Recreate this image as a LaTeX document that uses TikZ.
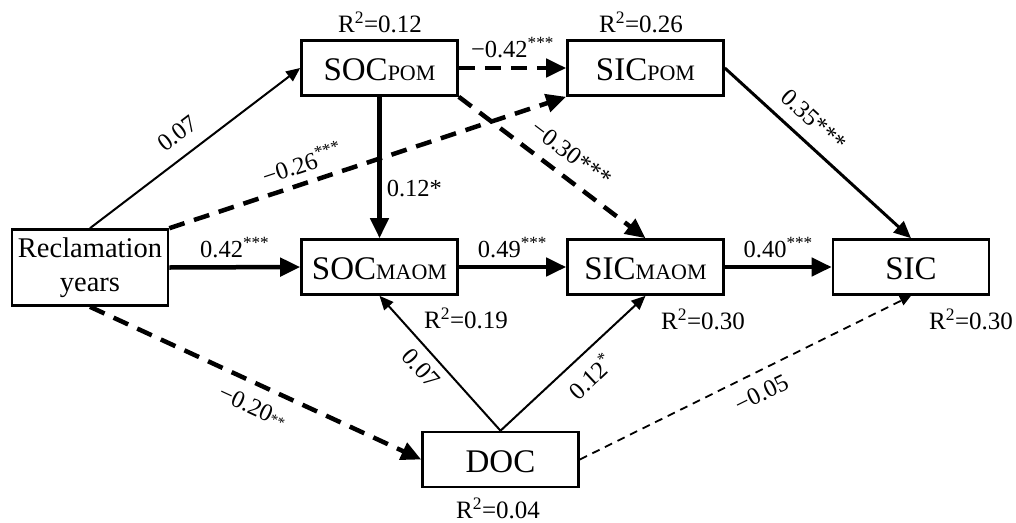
\documentclass[tikz,border=0pt]{standalone}
\usepackage{fontspec}
\setmainfont{Liberation Serif}
\usepackage{tikz}
\usetikzlibrary{arrows.meta, positioning, calc}
\newcommand{\smallsub}[1]{{\fontsize{22}{24}\selectfont #1}}
\newcommand{\sig}[1]{\textsuperscript{#1}}
\tikzset{
  base/.style={draw=black, line width=2.6pt, align=center, inner sep=0pt,
               minimum width=156pt, minimum height=55pt},
  var/.style        = {base, font=\fontsize{33}{38}\selectfont, text height=25pt, text depth=0pt},
  rsq/.style        = {font=\fontsize{25}{28}\selectfont, inner sep=0pt},
  coef/.style       = {font=\fontsize{24.5}{28}\selectfont, inner sep=2pt},
  strong/.style     = {-{Triangle[length=20pt, width=18pt]}, line width=4.5pt},
  strongdash/.style = {strong, dash pattern=on 16pt off 10pt},
  mid/.style        = {-{Triangle[length=17pt, width=15pt]}, line width=3pt},
  weak/.style       = {-{Triangle[length=14pt, width=12pt]}, line width=2pt},
  weakdash/.style   = {-{Triangle[length=11pt, width=10pt]}, line width=1.8pt,
                       dash pattern=on 8pt off 6pt},
}

\begin{document}
\begin{tikzpicture}[x=1pt, y=-1pt]
  \useasboundingbox (0,0) rectangle (1016,522);

  \node[base, minimum height=76pt, font=\fontsize{28.5}{34}\selectfont] (rec) at (90,267.5) {Reclamation\\years};
  \node[var] (socpom)  at (379.5,68)  {SOC\smallsub{POM}};
  \node[var] (sicpom)  at (645.5,68)  {SIC\smallsub{POM}};
  \node[var] (socmaom) at (379.5,267) {SOC\smallsub{MAOM}};
  \node[var] (sicmaom) at (645.5,267) {SIC\smallsub{MAOM}};
  \node[var] (sic)     at (911,267)   {SIC};
  \node[var] (doc)     at (500.5,459.5) {DOC};

  \node[rsq] (rsocpom)  at (380,22)  {R\sig{2}=0.12};
  \node[rsq] (rsicpom)  at (641,22)  {R\sig{2}=0.26};
  \node[rsq] (rsocmaom) at (466,318) {R\sig{2}=0.19};
  \node[rsq] (rsicmaom) at (703,319) {R\sig{2}=0.30};
  \node[rsq] (rsic)     at (971,319) {R\sig{2}=0.30};
  \node[rsq] (rdoc)     at (498,508) {R\sig{2}=0.04};

  % from reclamation years
  \draw[weak] (rec.north) -- node[coef, sloped, above=11pt, pos=0.48] {0.07} (socpom.west);
  \draw[strongdash] (rec.north east) -- node[coef, sloped, above=6pt, pos=0.35] {−0.26\sig{***}} (sicpom.south west);
  \draw[strong] (rec.east) -- node[coef, above=5pt] {0.42\sig{***}} (socmaom.west);
  \draw[strongdash] (rec.south) -- node[coef, sloped, below=10pt, pos=0.52] {−0.20{\fontsize{15}{15}\selectfont **}} (doc.west);

  % particulate pools
  \draw[strongdash] (socpom.east) -- node[coef, above=6pt] {−0.42\sig{***}} (sicpom.west);
  \draw[strong] (socpom.south) -- node[coef, right=3pt, pos=0.65] {0.12*} (socmaom.north);
  \draw[strongdash] (socpom.south east) -- node[coef, sloped, above=10pt, pos=0.53] {−0.30***} (sicmaom.north);
  \draw[mid] (sicpom.east) -- node[coef, sloped, above=10pt, pos=0.4] {0.35***} (sic.north);

  % mineral-associated pools
  \draw[strong] (socmaom.east) -- node[coef, above=5pt] {0.49\sig{***}} (sicmaom.west);
  \draw[strong] (sicmaom.east) -- node[coef, above=5pt] {0.40\sig{***}} (sic.west);

  % DOC
  \draw[weak] (doc.north) -- node[coef, sloped, below=6pt, pos=0.55] {0.07} (socmaom.south);
  \draw[weak] (doc.north) -- node[coef, sloped, below=8pt, pos=0.52] {0.12\sig{*}} (sicmaom.south);
  \draw[weakdash] (doc.east) -- node[coef, sloped, below=10pt, pos=0.52] {−0.05} (sic.south);

\end{tikzpicture}
\end{document}
